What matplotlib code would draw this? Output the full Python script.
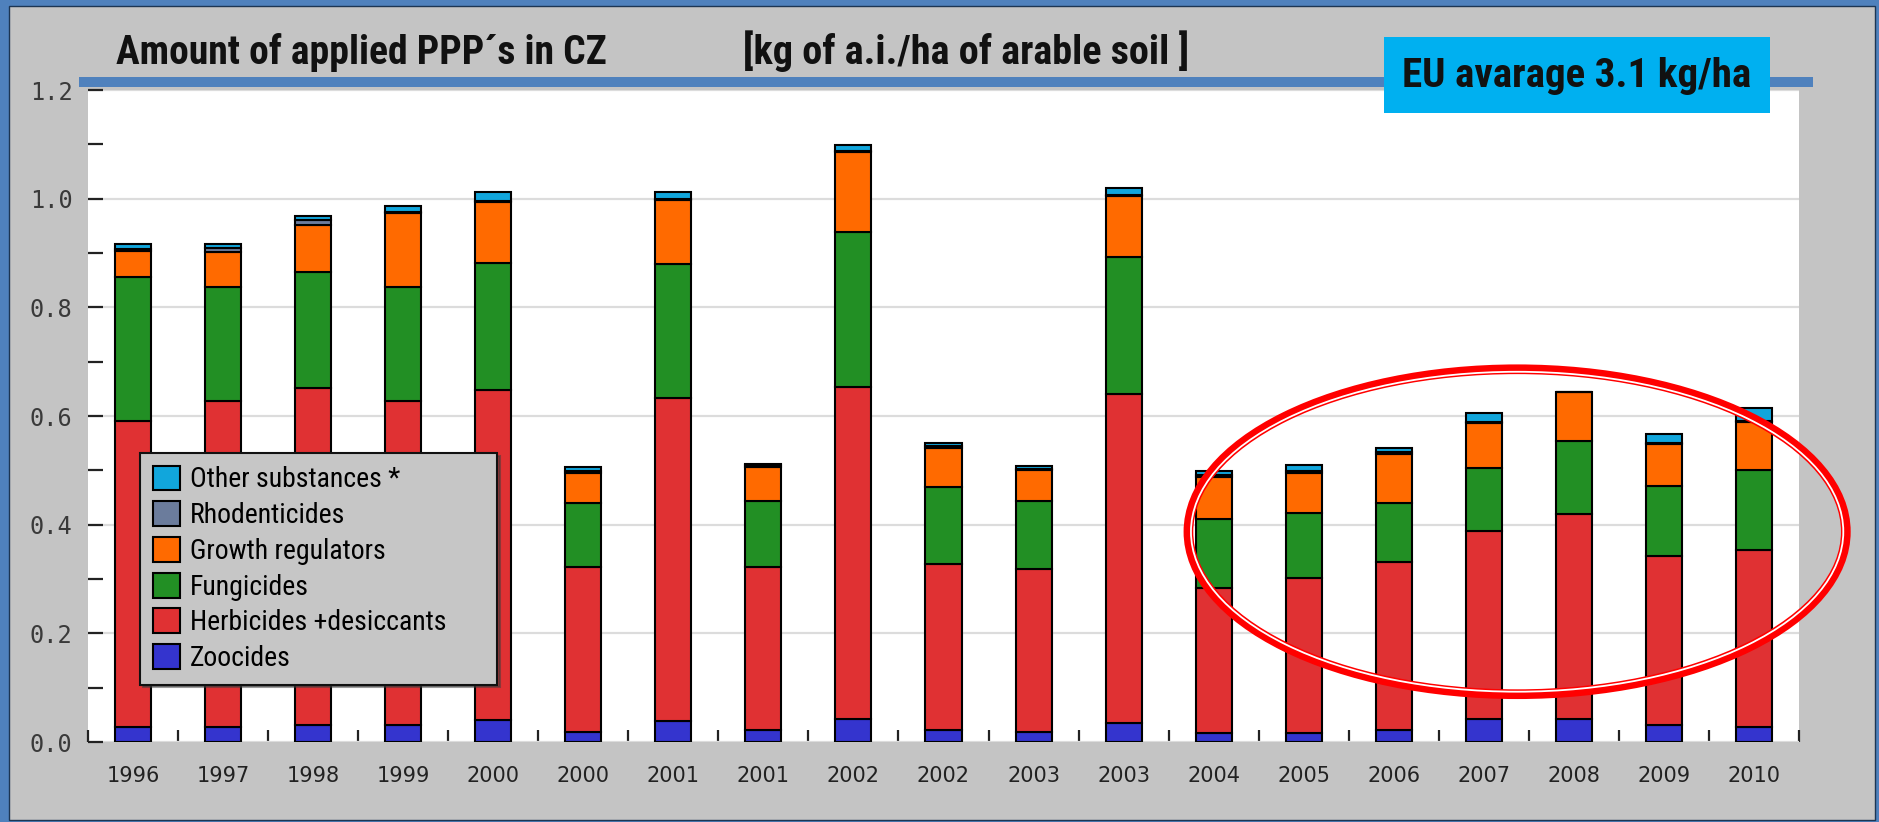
import matplotlib
matplotlib.use("Agg")
import matplotlib.pyplot as plt
import numpy as np
from matplotlib.patches import Rectangle, Ellipse
from matplotlib.lines import Line2D
from matplotlib import font_manager

# data (kg of a.i. / ha)
years = ["1996", "1997", "1998", "1999", "2000", "2000", "2001", "2001", "2002", "2002",
         "2003", "2003", "2004", "2005", "2006", "2007", "2008", "2009", "2010"]
zoocides = [0.027, 0.028, 0.032, 0.032, 0.040, 0.018, 0.039, 0.022, 0.043, 0.022,
            0.019, 0.035, 0.017, 0.017, 0.023, 0.043, 0.043, 0.031, 0.027]
herbicides = [0.564, 0.599, 0.619, 0.595, 0.608, 0.305, 0.595, 0.300, 0.611, 0.305,
              0.299, 0.605, 0.267, 0.284, 0.309, 0.345, 0.376, 0.312, 0.326]
fungicides = [0.265, 0.210, 0.214, 0.210, 0.233, 0.117, 0.246, 0.121, 0.285, 0.142,
              0.125, 0.253, 0.126, 0.121, 0.108, 0.117, 0.135, 0.129, 0.148]
growth_reg = [0.048, 0.065, 0.087, 0.136, 0.113, 0.056, 0.118, 0.064, 0.146, 0.073,
              0.057, 0.111, 0.077, 0.074, 0.090, 0.082, 0.090, 0.077, 0.088]
rhodenticides = [0.003, 0.008, 0.008, 0.002, 0.002, 0.002, 0.002, 0.003, 0.002, 0.002,
                 0.002, 0.002, 0.004, 0.003, 0.003, 0.002, 0.000, 0.002, 0.002]
other = [0.010, 0.007, 0.008, 0.011, 0.016, 0.009, 0.013, 0.002, 0.011, 0.007,
         0.006, 0.014, 0.007, 0.011, 0.008, 0.017, 0.000, 0.015, 0.024]

series = [
    ("Zoocides", zoocides, "#3434CE"),
    ("Herbicides +desiccants", herbicides, "#E03133"),
    ("Fungicides", fungicides, "#228F24"),
    ("Growth regulators", growth_reg, "#FF6A00"),
    ("Rhodenticides", rhodenticides, "#6B7C9C"),
    ("Other substances *", other, "#11A6DC"),
]

W, H = 1879, 822
names = {f.name for f in font_manager.fontManager.ttflist}
cond = [n for n in ["Roboto Condensed", "Liberation Sans Narrow", "Roboto", "DejaVu Sans"]
        if n in names]

fig = plt.figure(figsize=(W / 100, H / 100), dpi=100, facecolor="#4F81BD")
fig.add_artist(Rectangle((9 / W, 2 / H), (1875 - 9) / W, (816 - 2) / H,
                         transform=fig.transFigure, facecolor="#C4C4C4",
                         edgecolor="#1C3553", linewidth=1, zorder=0))

ax = fig.add_axes([88 / W, 1 - 742 / H, (1799 - 88) / W, (742 - 90) / H])
ax.set_facecolor("white")

x = np.arange(len(years))
bottom = np.zeros(len(years))
bars = []
for name, vals, col in series:
    b = ax.bar(x, vals, width=0.4, bottom=bottom, color=col, edgecolor="black",
               linewidth=1.5, label=name, zorder=3)
    bars.append(b)
    bottom += np.array(vals)

ax.set_xlim(-0.5, len(years) - 0.5)
ax.set_ylim(0, 1.2)
for s in ax.spines.values():
    s.set_visible(False)

ax.set_yticks(np.arange(0, 1.21, 0.2))
ax.set_yticks(np.arange(0, 1.21, 0.1), minor=True)
ax.set_yticklabels([f"{v:.1f}" for v in np.arange(0, 1.21, 0.2)],
                   family="DejaVu Sans Mono", fontsize=17, color="#3A3A3A")
ax.tick_params(axis="y", which="both", direction="in", length=10.5, width=1.6,
               color="#222222", pad=11)
ax.yaxis.grid(True, which="major", color="#DCDCDC", linewidth=1.6)
ax.set_axisbelow(True)

ax.set_xticks(x)
ax.set_xticklabels(years, fontsize=15, color="#222222")
ax.set_xticks(np.arange(-0.5, len(years), 1.0), minor=True)
ax.tick_params(axis="x", which="major", length=0, pad=17)
ax.tick_params(axis="x", which="minor", direction="in", length=9, width=1.6,
               color="#222222")

# legend, top entry first
handles = bars[::-1]
labels = [s[0] for s in series][::-1]
leg = ax.legend(handles, labels, loc="upper left",
                bbox_to_anchor=(140 / W, 1 - 453 / H - 0.1, (497 - 140) / W, 0.1),
                bbox_transform=fig.transFigure, mode="expand", borderaxespad=0,
                fancybox=False, shadow=True, framealpha=1, facecolor="#C6C6C6",
                edgecolor="#111111", prop={"family": cond, "size": 20},
                handlelength=1.0, handleheight=1.0, handletextpad=0.35,
                labelspacing=0.28, borderpad=0.45)
leg.get_frame().set_linewidth(1.5)
leg.set_zorder(6)

# title
fig.text(116 / W, 1 - 64 / H, "Amount of applied PPP´s in CZ", family=cond,
         fontweight="bold", fontsize=28.5, color="#111111", va="baseline")
fig.text(743 / W, 1 - 64 / H, "[kg of a.i./ha of arable soil ]", family=cond,
         fontweight="bold", fontsize=29, color="#111111", va="baseline")

# blue line on top of plot
fig.add_artist(Line2D([84 / W, 1808 / W], [1 - 82 / H, 1 - 82 / H], color="#4F81BD",
                      linewidth=7.2, transform=fig.transFigure, zorder=2))

# EU average box
fig.add_artist(Rectangle((1384 / W, 1 - 113 / H), (1770 - 1384) / W, (113 - 37) / H,
                         transform=fig.transFigure, facecolor="#00B0F0",
                         edgecolor="none", zorder=4))
fig.text(1577 / W, 1 - 76 / H, "EU avarage 3.1 kg/ha", family=cond, fontweight="bold",
         fontsize=29.5, color="#111111", ha="center", va="center", zorder=5)

# red ellipse highlighting 2004-2010
ax.add_patch(Ellipse((15.37, 0.387), 7.30, 0.598, fill=False, edgecolor="#FF0000",
                     linewidth=7.0, clip_on=False, zorder=7))
ax.add_patch(Ellipse((15.37, 0.387), 7.244, 0.5888, fill=False, edgecolor="white",
                     linewidth=1.3, clip_on=False, zorder=8))

fig.savefig("out.png", dpi=100, facecolor=fig.get_facecolor())
